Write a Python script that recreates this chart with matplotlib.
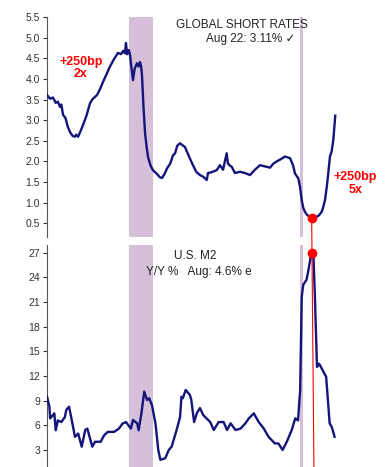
import matplotlib
matplotlib.use("Agg")
import matplotlib.pyplot as plt
from matplotlib.patches import ConnectionPatch

# Global short rates (decimal year, %)
rates_t = [2002.08, 2002.3, 2002.5, 2002.7, 2002.85, 2003.01, 2003.1, 2003.22, 2003.4, 2003.55,
           2003.72, 2003.9, 2004.07, 2004.15, 2004.29, 2004.45, 2004.64, 2004.9, 2005.14, 2005.3,
           2005.45, 2005.64, 2005.85, 2006.07, 2006.3, 2006.56, 2006.85, 2007.13, 2007.35, 2007.5,
           2007.63, 2007.7, 2007.78, 2007.9, 2007.99, 2008.08, 2008.2, 2008.32, 2008.49, 2008.6,
           2008.7, 2008.78, 2008.84, 2008.95, 2009.06, 2009.17, 2009.27, 2009.45, 2009.62, 2009.9,
           2010.1, 2010.27, 2010.45, 2010.62, 2010.85, 2011.05, 2011.2, 2011.35, 2011.55, 2011.7,
           2011.9, 2012.15, 2012.4, 2012.7, 2012.97, 2013.2, 2013.45, 2013.54, 2013.8, 2014.16,
           2014.39, 2014.61, 2014.87, 2014.96, 2015.1, 2015.23, 2015.46, 2015.82, 2016.17, 2016.53,
           2016.88, 2017.24, 2017.6, 2017.95, 2018.2, 2018.43, 2018.7, 2019.02, 2019.38, 2019.6,
           2019.73, 2019.97, 2020.09, 2020.21, 2020.32, 2020.44, 2020.6, 2020.8, 2020.92, 2021.1,
           2021.28, 2021.45, 2021.63, 2021.75, 2021.87, 2022.0, 2022.1, 2022.22, 2022.34, 2022.46,
           2022.6]
rates_v = [3.61, 3.52, 3.55, 3.42, 3.45, 3.32, 3.38, 3.13, 3.05, 2.85,
           2.71, 2.62, 2.60, 2.65, 2.60, 2.72, 2.88, 3.12, 3.41, 3.50,
           3.55, 3.61, 3.75, 3.93, 4.10, 4.30, 4.48, 4.63, 4.60, 4.68,
           4.62, 4.87, 4.60, 4.70, 4.58, 4.30, 3.97, 4.25, 4.38, 4.30,
           4.41, 4.30, 4.10, 3.30, 2.68, 2.35, 2.11, 1.90, 1.79, 1.70,
           1.62, 1.60, 1.70, 1.83, 1.95, 2.15, 2.20, 2.38, 2.44, 2.40,
           2.35, 2.15, 1.96, 1.75, 1.67, 1.63, 1.55, 1.72, 1.74, 1.79,
           1.91, 1.80, 2.20, 1.95, 1.90, 1.87, 1.72, 1.75, 1.72, 1.67,
           1.80, 1.91, 1.88, 1.85, 1.95, 2.00, 2.05, 2.12, 2.08, 1.90,
           1.71, 1.59, 1.39, 1.07, 0.88, 0.78, 0.70, 0.66, 0.63, 0.62,
           0.66, 0.70, 0.78, 0.90, 1.07, 1.40, 1.71, 2.12, 2.24, 2.52,
           3.11]

# U.S. M2 Y/Y %
m2_t = [2002.08, 2002.25, 2002.3, 2002.5, 2002.6, 2002.7, 2002.85, 2003.1, 2003.35, 2003.45,
        2003.65, 2003.8, 2004.07, 2004.3, 2004.55, 2004.8, 2004.95, 2005.3, 2005.5, 2005.9,
        2006.15, 2006.4, 2006.85, 2007.2, 2007.45, 2007.7, 2008.05, 2008.2, 2008.5, 2008.6,
        2008.8, 2009.0, 2009.2, 2009.35, 2009.55, 2009.8, 2010.0, 2010.15, 2010.5, 2010.75,
        2010.95, 2011.3, 2011.55, 2011.65, 2011.75, 2011.95, 2012.25, 2012.35, 2012.55, 2012.75,
        2012.97, 2013.2, 2013.7, 2013.95, 2014.3, 2014.65, 2014.9, 2015.15, 2015.5, 2015.85,
        2016.2, 2016.45, 2016.8, 2017.15, 2017.5, 2017.85, 2018.3, 2018.55, 2018.85, 2019.15,
        2019.5, 2019.75, 2019.95, 2020.1, 2020.21, 2020.32, 2020.55, 2020.67, 2020.85, 2020.95,
        2021.05, 2021.15, 2021.3, 2021.45, 2021.7, 2021.95, 2022.2, 2022.35, 2022.55]
m2_v = [9.48, 8.27, 6.85, 7.25, 7.46, 5.40, 6.60, 6.40, 7.00, 7.86,
        8.27, 7.00, 4.60, 5.00, 3.40, 5.43, 5.60, 3.40, 4.00, 4.00,
        4.80, 5.20, 5.20, 5.60, 6.20, 6.40, 5.60, 6.65, 6.24, 5.40,
        7.46, 10.1, 9.08, 9.30, 8.47, 6.24, 3.00, 1.80, 2.00, 3.00,
        3.40, 5.40, 7.00, 9.48, 9.30, 10.3, 9.70, 9.10, 6.40, 7.50,
        8.10, 7.25, 6.40, 5.43, 6.40, 6.40, 5.43, 6.24, 5.43, 5.60,
        6.24, 6.85, 7.46, 6.40, 5.64, 4.60, 3.80, 3.80, 3.00, 4.00,
        5.43, 6.85, 6.60, 10.3, 21.6, 23.1, 23.7, 24.7, 26.5, 27.0,
        26.5, 21.6, 13.1, 13.5, 12.7, 11.9, 6.24, 5.80, 4.60]

# recessions
recessions = [(2007.92, 2009.62), (2020.09, 2020.30)]

rate_low = (2020.92, 0.63)
m2_peak = (2020.92, 27.0)

navy = "#14147a"
shade = "#d6bfd9"
plt.rcParams["font.family"] = ["Liberation Sans", "DejaVu Sans"]

fig = plt.figure(figsize=(3.86, 4.67), dpi=100)
ax1 = fig.add_axes([0.1218, 0.4925, 0.785, 0.4711])
ax2 = fig.add_axes([0.1218, 0.0, 0.785, 0.4754])

for ax in (ax1, ax2):
    for a, b in recessions:
        ax.axvspan(a, b, color=shade, lw=0, zorder=0)
    ax.set_xlim(2002.08, 2023.65)
    for s in ("top", "right", "bottom"):
        ax.spines[s].set_visible(False)
    ax.spines["left"].set_color("#555555")
    ax.set_xticks([])
    ax.tick_params(axis="y", labelsize=7.5, colors="#333333", length=3, width=0.8, pad=2)
    ax.patch.set_alpha(0)

# top panel
ax1.plot(rates_t, rates_v, color=navy, lw=1.7, zorder=3)
ax1.set_ylim(0.17, 5.5)
ax1.set_yticks([0.5 * i for i in range(1, 12)])
ax1.set_yticklabels([f"{0.5 * i:.1f}" for i in range(1, 12)])
ax1.plot(*rate_low, "o", color="red", ms=6, zorder=5)
ax1.text(0.644, 0.962, "GLOBAL SHORT RATES", transform=ax1.transAxes, ha="center", va="center",
         fontsize=8.5, color="#222222")
ax1.text(0.673, 0.90, "Aug 22: 3.11% \u2713", transform=ax1.transAxes, ha="center", va="center",
         fontsize=8.5, color="#222222")
ax1.text(2004.5, 4.27, "+250bp\n2x", ha="center", va="center", fontsize=9, color="red",
         fontweight="bold", linespacing=1.05)
ax1.text(2024.05, 1.47, "+250bp\n5x", ha="center", va="center", fontsize=9, color="red",
         fontweight="bold", linespacing=1.05, clip_on=False)

# bottom panel
ax2.plot(m2_t, m2_v, color=navy, lw=1.7, zorder=3)
ax2.set_ylim(0.93, 27.94)
ax2.set_yticks(list(range(3, 28, 3)))
ax2.plot(*m2_peak, "o", color="red", ms=6, zorder=5)
ax2.text(0.488, 0.952, "U.S. M2", transform=ax2.transAxes, ha="center", va="center",
         fontsize=8.5, color="#222222")
ax2.text(0.5, 0.877, "Y/Y %   Aug: 4.6% e", transform=ax2.transAxes, ha="center", va="center",
         fontsize=8.5, color="#222222")

con = ConnectionPatch(xyA=rate_low, coordsA=ax1.transData,
                      xyB=(2021.08, 0.93), coordsB=ax2.transData,
                      color="red", lw=0.8, zorder=4)
fig.add_artist(con)

fig.savefig("out.png", dpi=100)
